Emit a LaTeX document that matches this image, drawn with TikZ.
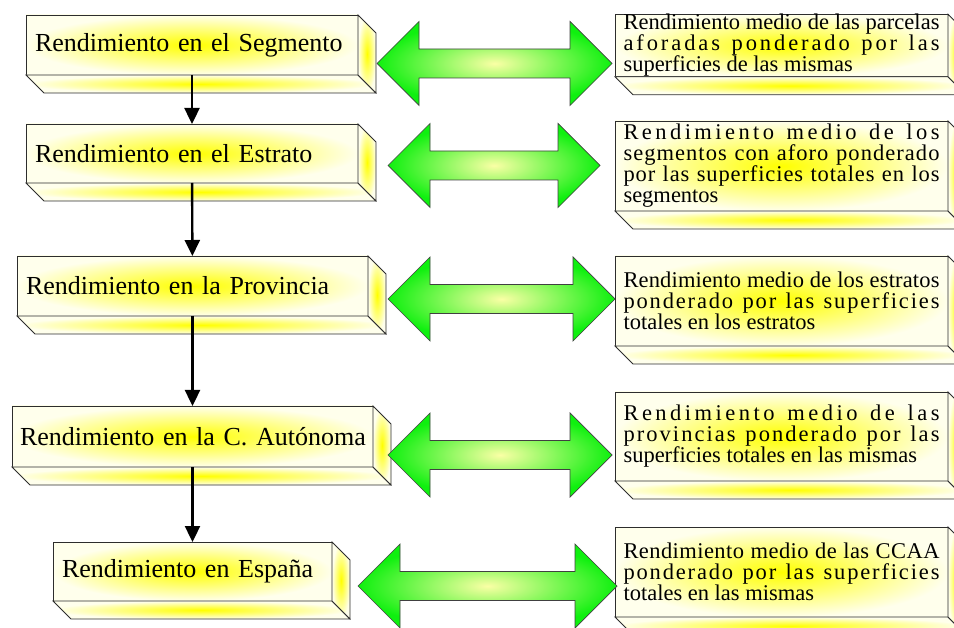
\documentclass[tikz,border=0pt]{standalone}
\usepackage{fontspec}
\setmainfont{Liberation Serif}
\usetikzlibrary{arrows.meta}

\definecolor{edge}{RGB}{45,45,45}
\definecolor{paleyel}{RGB}{255,255,236}
\definecolor{glow}{RGB}{250,255,165}
\definecolor{lime}{RGB}{15,240,15}

% justified line with the extra space spread between the letters
\ExplSyntaxOn
\NewDocumentCommand \spreadline { m }
  {
    \hbox_to_wd:nn { 316pt }
      { \str_map_inline:nn {#1} { ##1 \hfil } \unskip }
  }
\ExplSyntaxOff
\newcommand{\detailtext}[1]{\parbox{316pt}{\fontsize{22.5}{21}\selectfont #1}}

\begin{document}
\begin{tikzpicture}[
        x=1pt, y=-1pt,
        level/.style={rectangle, draw=edge, line width=0.8pt, outer sep=0pt, inner color=yellow, outer color=paleyel, inner xsep=9pt, inner ysep=0pt, minimum height=60pt, align=left, font=\fontsize{26}{30}\selectfont},
        detail/.style={rectangle, draw=edge, line width=0.8pt, outer sep=0pt, inner color=yellow, outer color=paleyel, inner xsep=8.5pt, inner ysep=0pt, minimum height=90pt},
        face/.style={draw=edge, line width=0.8pt, inner color=yellow, outer color=paleyel},
        link/.style={draw=black!75, line width=0.7pt, inner color=glow, outer color=lime},
        arrow/.style={draw, line width=2.4pt, -{Triangle[length=16pt, width=15pt]}}
    ]
    \useasboundingbox (0,0) rectangle (954,628);
    \clip (0,0) rectangle (954,628);

    % Levels
    \node (seg) [level, text width=314pt] at (192,45) {Rendimiento en el Segmento};
    \node (est) [level, text width=314pt, minimum height=59pt] at (192,153.5) {Rendimiento en el Estrato};
    \node (prov) [level, text width=333pt] at (192.5,286) {Rendimiento en la Provincia};
    \node (ccaa) [level, text width=345pt, inner xsep=8pt, minimum height=61pt] at (192.5,436.5) {\mbox{Rendimiento en la C. Autónoma}};
    \node (esp) [level, text width=261pt, minimum height=59pt] at (192.5,571.5) {Rendimiento en España};

    % Descriptions
    \node (m1) [detail, minimum height=61pt] at (781.5,45.5) {\detailtext{\spreadline{Rendimiento medio de las parcelas}\par \spreadline{aforadas ponderado por las}\par superficies de las mismas}};
    \node (m2) [detail] at (781.5,166) {\detailtext{\spreadline{Rendimiento medio de los}\par \spreadline{segmentos con aforo ponderado}\par \spreadline{por las superficies totales en los}\par segmentos}};
    \node (m3) [detail] at (781.5,301) {\detailtext{\spreadline{Rendimiento medio de los estratos}\par \spreadline{ponderado por las superficies}\par totales en los estratos}};
    \node (m4) [detail, minimum height=89pt] at (781.5,436.5) {\detailtext{\spreadline{Rendimiento medio de las}\par \spreadline{provincias ponderado por las}\par superficies totales en las mismas}};
    \node (m5) [detail] at (781.5,572) {\detailtext{\spreadline{Rendimiento medio de las CCAA}\par \spreadline{ponderado por las superficies}\par totales en las mismas}};

    % Depth of the boxes
    \foreach \n in {seg,est,prov,ccaa,esp,m1,m2,m3,m4,m5}{
        \path[face] (\n.south west) -- ++(18,18) -- ([shift={(18,18)}]\n.south east) -- (\n.south east) -- cycle;
        \path[face] (\n.south east) -- ++(18,18) -- ([shift={(18,18)}]\n.north east) -- (\n.north east) -- cycle;
    }

    % Double arrows
    \foreach \xa/\xb/\ym in {377/612/63.5, 388/600/165.5, 388/615/299, 388/612/455, 358/617/586}
        \path[link] (\xa,\ym) -- (\xa+42,\ym-42) -- (\xa+42,\ym-14.5) -- (\xb-42,\ym-14.5) -- (\xb-42,\ym-42) -- (\xb,\ym)
            -- (\xb-42,\ym+42) -- (\xb-42,\ym+14.5) -- (\xa+42,\ym+14.5) -- (\xa+42,\ym+42) -- cycle;

    % Arrows
    \draw [arrow] (seg) -- (est);
    \draw [arrow] (est) -- (prov);
    \draw [arrow] (prov) -- (ccaa);
    \draw [arrow] (ccaa) -- (esp);

\end{tikzpicture}
\end{document}
